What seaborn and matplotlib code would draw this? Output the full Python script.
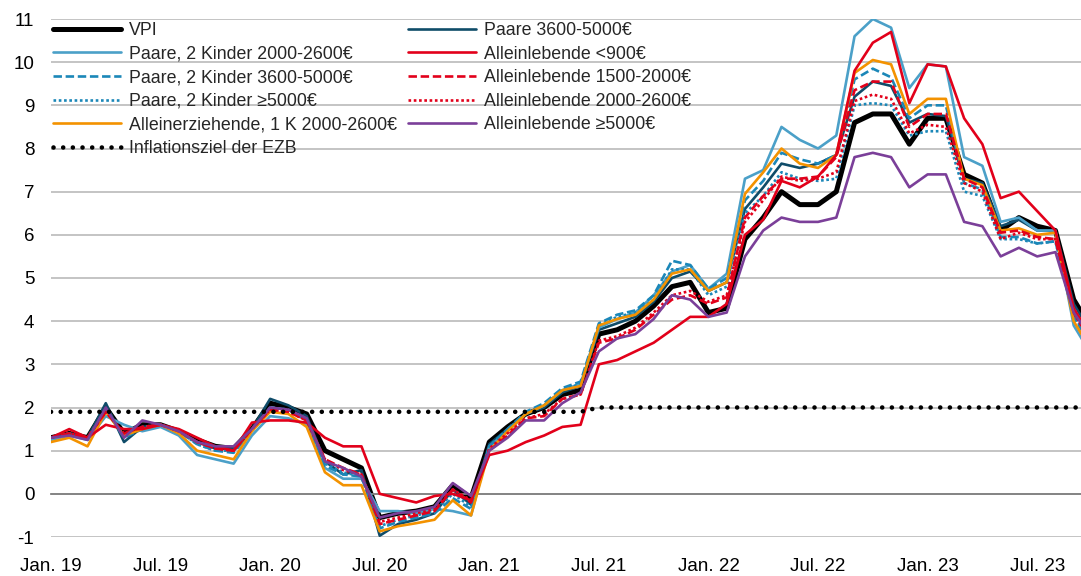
import matplotlib
matplotlib.use("Agg")
import matplotlib.pyplot as plt
import seaborn as sns
import pandas as pd

# Monatswerte Jan. 2019 - Okt. 2023 (Veraenderung ggue. Vorjahresmonat in %)
months = pd.date_range("2019-01-01", "2023-10-01", freq="MS")
tick_labels = ["Jan. 19", "Jul. 19", "Jan. 20", "Jul. 20", "Jan. 21",
               "Jul. 21", "Jan. 22", "Jul. 22", "Jan. 23", "Jul. 23"]

vpi = [1.3, 1.4, 1.3, 2.0, 1.4, 1.6, 1.6, 1.45, 1.25, 1.1, 1.05, 1.5,
       2.1, 2.0, 1.85, 1.0, 0.8, 0.6, -0.55, -0.45, -0.4, -0.3, 0.2, -0.1,
       1.2, 1.55, 1.85, 2.0, 2.3, 2.4, 3.7, 3.8, 4.0, 4.35, 4.8, 4.9,
       4.2, 4.3, 5.9, 6.4, 7.0, 6.7, 6.7, 7.0, 8.6, 8.8, 8.8, 8.1,
       8.7, 8.7, 7.4, 7.2, 6.1, 6.4, 6.2, 6.1, 4.5, 3.8]
paare_3600 = [1.3, 1.4, 1.3, 2.1, 1.2, 1.55, 1.6, 1.45, 1.2, 1.05, 1.05, 1.5,
              2.2, 2.05, 1.8, 0.75, 0.45, 0.55, -0.97, -0.7, -0.6, -0.45, 0.1, -0.25,
              1.15, 1.5, 1.85, 2.0, 2.35, 2.5, 3.8, 3.95, 4.1, 4.45, 5.0, 5.15,
              4.7, 4.9, 6.6, 7.1, 7.65, 7.55, 7.65, 7.85, 9.2, 9.55, 9.45, 8.6,
              8.8, 8.75, 7.3, 7.2, 6.2, 6.35, 6.1, 6.1, 4.4, 3.7]
p2k_2000 = [1.25, 1.35, 1.25, 1.8, 1.6, 1.45, 1.55, 1.35, 0.9, 0.8, 0.7, 1.35,
            1.8, 1.75, 1.6, 0.6, 0.35, 0.35, -0.4, -0.4, -0.45, -0.35, -0.4, -0.5,
            1.1, 1.45, 1.85, 2.05, 2.4, 2.55, 3.85, 4.05, 4.2, 4.6, 5.15, 5.3,
            4.75, 5.1, 7.3, 7.5, 8.5, 8.2, 8.0, 8.3, 10.6, 11.0, 10.8, 9.4,
            9.95, 9.9, 7.8, 7.6, 6.3, 6.4, 6.1, 6.1, 3.9, 3.2]
p2k_3600 = [1.3, 1.4, 1.25, 1.95, 1.3, 1.5, 1.6, 1.45, 1.15, 1.0, 0.95, 1.45,
            2.0, 1.95, 1.7, 0.65, 0.45, 0.4, -0.8, -0.65, -0.55, -0.45, -0.1, -0.35,
            1.1, 1.5, 1.9, 2.1, 2.45, 2.6, 3.95, 4.15, 4.25, 4.6, 5.4, 5.3,
            4.75, 5.0, 6.8, 7.25, 7.9, 7.75, 7.65, 7.85, 9.6, 9.85, 9.65, 8.7,
            9.0, 9.0, 7.2, 7.05, 5.95, 5.95, 5.8, 5.85, 4.1, 3.4]
p2k_5000 = [1.3, 1.4, 1.3, 1.95, 1.35, 1.55, 1.6, 1.45, 1.15, 1.0, 1.0, 1.45,
            2.0, 1.95, 1.7, 0.7, 0.5, 0.4, -0.75, -0.6, -0.5, -0.4, 0.0, -0.3,
            1.1, 1.5, 1.85, 2.05, 2.4, 2.55, 3.9, 4.1, 4.2, 4.5, 5.2, 5.2,
            4.6, 4.8, 6.5, 6.9, 7.45, 7.3, 7.25, 7.3, 9.0, 9.05, 9.0, 8.3,
            8.4, 8.4, 7.0, 6.9, 5.9, 5.9, 5.8, 5.85, 4.1, 3.5]
allein_erz = [1.2, 1.3, 1.1, 1.9, 1.35, 1.5, 1.6, 1.4, 1.0, 0.9, 0.8, 1.45,
              1.9, 1.85, 1.55, 0.5, 0.2, 0.2, -0.87, -0.75, -0.68, -0.6, -0.15, -0.5,
              1.0, 1.45, 1.85, 2.05, 2.4, 2.5, 3.9, 4.05, 4.15, 4.5, 5.1, 5.2,
              4.7, 4.9, 6.95, 7.45, 8.0, 7.65, 7.55, 7.85, 9.75, 10.05, 9.95, 8.8,
              9.15, 9.15, 7.3, 7.15, 6.1, 6.15, 6.0, 6.05, 4.0, 3.3]
al_900 = [1.3, 1.5, 1.3, 1.6, 1.5, 1.5, 1.6, 1.5, 1.3, 1.1, 1.0, 1.65,
          1.7, 1.7, 1.65, 1.3, 1.1, 1.1, 0.0, -0.1, -0.2, -0.05, 0.0, -0.15,
          0.9, 1.0, 1.2, 1.35, 1.55, 1.6, 3.0, 3.1, 3.3, 3.5, 3.8, 4.1,
          4.1, 4.4, 6.0, 6.35, 7.25, 7.1, 7.35, 7.85, 9.8, 10.45, 10.7, 9.05,
          9.95, 9.9, 8.7, 8.1, 6.85, 7.0, 6.55, 6.1, 4.3, 3.6]
al_1500 = [1.3, 1.4, 1.3, 1.9, 1.4, 1.55, 1.6, 1.45, 1.2, 1.05, 1.0, 1.5,
           1.95, 1.9, 1.7, 0.8, 0.6, 0.45, -0.7, -0.6, -0.5, -0.4, 0.1, -0.2,
           1.0, 1.35, 1.75, 1.8, 2.2, 2.3, 3.5, 3.6, 3.8, 4.15, 4.5, 4.6,
           4.4, 4.55, 6.4, 6.9, 7.3, 7.3, 7.35, 7.8, 9.35, 9.55, 9.55, 8.5,
           8.8, 8.8, 7.3, 7.1, 6.05, 6.1, 5.95, 5.9, 4.2, 3.5]
al_2000 = [1.3, 1.4, 1.3, 1.9, 1.4, 1.55, 1.6, 1.45, 1.2, 1.05, 1.0, 1.5,
           1.95, 1.9, 1.7, 0.8, 0.55, 0.45, -0.65, -0.55, -0.45, -0.35, 0.1, -0.15,
           1.05, 1.4, 1.75, 1.85, 2.2, 2.3, 3.55, 3.65, 3.85, 4.2, 4.6, 4.7,
           4.45, 4.6, 6.3, 6.8, 7.35, 7.25, 7.3, 7.45, 9.1, 9.25, 9.15, 8.35,
           8.55, 8.5, 7.2, 7.0, 5.9, 6.05, 5.9, 5.9, 4.2, 3.5]
al_5000 = [1.3, 1.35, 1.25, 2.0, 1.3, 1.7, 1.6, 1.45, 1.2, 1.1, 1.1, 1.5,
           2.0, 1.95, 1.75, 0.75, 0.6, 0.4, -0.55, -0.45, -0.4, -0.3, 0.25, -0.05,
           1.0, 1.3, 1.7, 1.7, 2.1, 2.35, 3.3, 3.6, 3.7, 4.05, 4.6, 4.5,
           4.1, 4.2, 5.5, 6.1, 6.4, 6.3, 6.3, 6.4, 7.8, 7.9, 7.8, 7.1,
           7.4, 7.4, 6.3, 6.2, 5.5, 5.7, 5.5, 5.6, 4.2, 3.6]
# EZB-Ziel: "unter, aber nahe 2%" bis Juni 2021, danach 2%
ezb_ziel = [1.9] * 30 + [2.0] * 28

df = pd.DataFrame({
    "VPI": vpi,
    "Paare 3600-5000€": paare_3600,
    "Paare, 2 Kinder 2000-2600€": p2k_2000,
    "Paare, 2 Kinder 3600-5000€": p2k_3600,
    "Paare, 2 Kinder ≥5000€": p2k_5000,
    "Alleinerziehende, 1 K 2000-2600€": allein_erz,
    "Alleinlebende <900€": al_900,
    "Alleinlebende 1500-2000€": al_1500,
    "Alleinlebende 2000-2600€": al_2000,
    "Alleinlebende ≥5000€": al_5000,
    "Inflationsziel der EZB": ezb_ziel,
})
df["monat"] = range(len(months))

# name: (farbe, linienbreite, linienstil, zorder)
styles = {
    "VPI": ("black", 3.6, "-", 2),
    "Paare 3600-5000€": ("#0F4C69", 1.9, "-", 3),
    "Paare, 2 Kinder 2000-2600€": ("#4BA0C8", 1.9, "-", 3),
    "Paare, 2 Kinder 3600-5000€": ("#1B87B8", 1.9, (0, (3.2, 1.4)), 3),
    "Paare, 2 Kinder ≥5000€": ("#1B87B8", 1.9, (0, (1, 1)), 3),
    "Alleinerziehende, 1 K 2000-2600€": ("#F39200", 1.9, "-", 3),
    "Alleinlebende <900€": ("#E2001A", 1.9, "-", 3),
    "Alleinlebende 1500-2000€": ("#E2001A", 1.9, (0, (3.2, 1.4)), 3),
    "Alleinlebende 2000-2600€": ("#E2001A", 1.9, (0, (1, 1)), 3),
    "Alleinlebende ≥5000€": ("#7B3F99", 1.9, "-", 3),
    "Inflationsziel der EZB": ("black", 3.3, (0, (0.01, 2.1)), 4),
}

sns.set_theme(style="white")
plt.rcParams["font.family"] = ["Liberation Sans", "DejaVu Sans"]
plt.rcParams["axes.unicode_minus"] = False

fig = plt.figure(figsize=(10.81, 5.76), dpi=100)
ax = fig.add_axes([51 / 1081, 1 - 537 / 576, 1 - 51 / 1081, (537 - 19) / 576])

lines = {}
for name, (color, lw, ls, z) in styles.items():
    sns.lineplot(data=df, x="monat", y=name, ax=ax, color=color, linewidth=lw,
                 linestyle=ls, zorder=z, label=name, legend=False)
    lines[name] = ax.get_lines()[-1]
lines["Inflationsziel der EZB"].set_dash_capstyle("round")

ax.set_xlim(0, 56.4)
ax.set_ylim(-1, 11)
ax.set_yticks(range(-1, 12))
ax.set_xlabel("")
ax.set_ylabel("")
ax.yaxis.grid(True, color="#BFBFBF", linewidth=1.3)
ax.set_axisbelow(True)
for side in ["left", "right", "top"]:
    ax.spines[side].set_visible(False)
ax.spines["bottom"].set_position(("data", 0))
ax.spines["bottom"].set_color("#808080")
ax.spines["bottom"].set_linewidth(1.3)

ticks = list(range(0, len(months), 6))
ax.set_xticks(ticks)
ax.tick_params(axis="x", direction="out", length=6, width=1.2, color="#808080",
               labelbottom=False)
ax.tick_params(axis="y", length=0, pad=12, labelsize=13.5, labelcolor="black")

sec = ax.secondary_xaxis("bottom")
sec.set_xticks(ticks, labels=tick_labels)
sec.tick_params(length=0, pad=15, labelsize=13.5, labelcolor="black")
sec.spines["bottom"].set_visible(False)

order = ["VPI", "Paare, 2 Kinder 2000-2600€", "Paare, 2 Kinder 3600-5000€",
         "Paare, 2 Kinder ≥5000€", "Alleinerziehende, 1 K 2000-2600€",
         "Inflationsziel der EZB", "Paare 3600-5000€", "Alleinlebende <900€",
         "Alleinlebende 1500-2000€", "Alleinlebende 2000-2600€",
         "Alleinlebende ≥5000€"]
fig.legend([lines[n] for n in order], order, ncol=2, frameon=False,
           loc="upper left", bbox_to_anchor=(53 / 1081, 1 - 22 / 576),
           borderpad=0, borderaxespad=0, fontsize=12.8, handlelength=3.8,
           handletextpad=0.45, labelspacing=0.37, columnspacing=0.65)

fig.savefig("out.png", dpi=100)
